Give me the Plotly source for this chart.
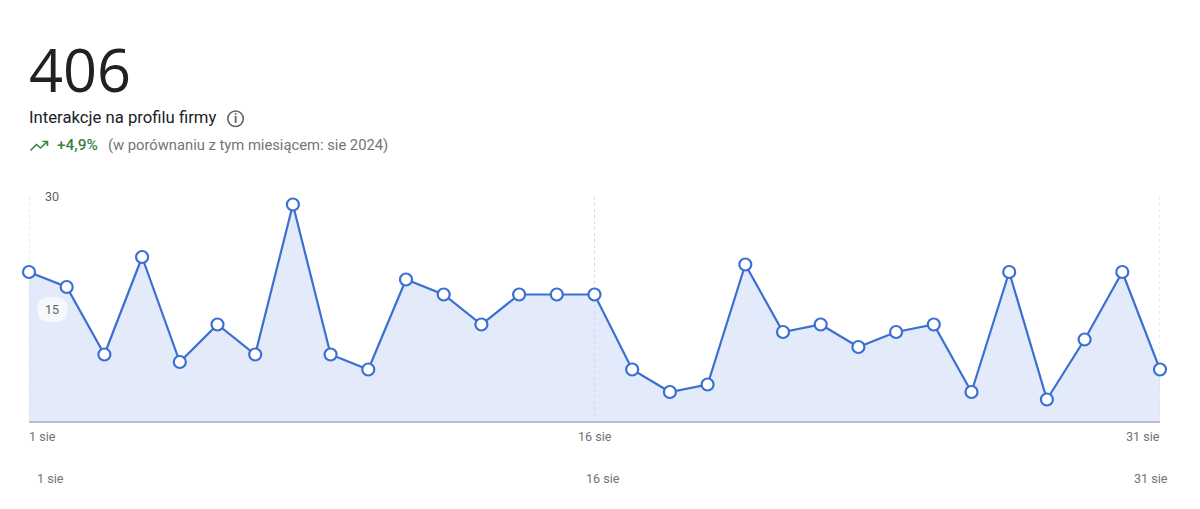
import plotly.graph_objects as go

W, H = 1200, 509
LEFT, RIGHT, TOP, BOTTOM = 28.5, 1160.5, 197, 422

# interakcje dziennie, sierpien
dni = list(range(1, 32))
wartosci = [20, 18, 9, 22, 8, 13, 9, 29, 9, 7, 19, 17, 13, 17, 17, 17,
            7, 4, 5, 21, 12, 13, 10, 12, 13, 4, 20, 3, 11, 20, 7]
tick_dni = [1, 16, 31]
tick_etykiety = ["1 sie", "16 sie", "31 sie"]
tick_kotwice = ["left", "center", "right"]
y_ticki = [30, 15]

NIEBIESKI = "#3b6fd2"
WYPELNIENIE = "#e3eafa"
SZARY = "#5f6368"
SZARY_OS = "#70757a"
ZIELONY = "#3c8043"
FONT = "Roboto"


def paper_x(x):
    return (x - LEFT) / (RIGHT - LEFT)


def paper_y(y):
    return (BOTTOM - y) / (BOTTOM - TOP)


def sciezka_px(punkty):
    return "M " + " L ".join(f"{paper_x(a)},{paper_y(b)}" for a, b in punkty)


def pigulka(x0, x1, y0, y1):
    # prostokat z zaokraglonymi rogami
    r = (y1 - y0) / 2
    return (f"M {paper_x(x0 + r)},{paper_y(y0)} L {paper_x(x1 - r)},{paper_y(y0)} "
            f"Q {paper_x(x1)},{paper_y(y0)} {paper_x(x1)},{paper_y(y0 + r)} "
            f"Q {paper_x(x1)},{paper_y(y1)} {paper_x(x1 - r)},{paper_y(y1)} "
            f"L {paper_x(x0 + r)},{paper_y(y1)} "
            f"Q {paper_x(x0)},{paper_y(y1)} {paper_x(x0)},{paper_y(y0 + r)} "
            f"Q {paper_x(x0)},{paper_y(y0)} {paper_x(x0 + r)},{paper_y(y0)} Z")


fig = go.Figure()
# najpierw wypelnienie, potem przerywane linie, na koncu linia z punktami
fig.add_trace(go.Scatter(
    x=dni, y=wartosci, mode="none", fill="tozeroy", fillcolor=WYPELNIENIE,
    hoverinfo="skip",
))
for d in tick_dni:
    fig.add_trace(go.Scatter(
        x=[d, d], y=[0, y_ticki[0]], mode="lines",
        line=dict(color="#d5d8de", width=1, dash="3px,3px"),
        hoverinfo="skip", cliponaxis=False,
    ))
fig.add_trace(go.Scatter(
    x=dni, y=wartosci, mode="lines+markers",
    line=dict(color=NIEBIESKI, width=2.2),
    marker=dict(size=12, color="white", line=dict(color=NIEBIESKI, width=2.2)),
    cliponaxis=False, hoverinfo="x+y",
))

shapes = []
# os x
shapes.append(dict(type="line", xref="x", yref="paper", x0=1, x1=31, y0=0, y1=0,
                   line=dict(color="#bcbfc9", width=2), layer="above"))
# tlo pod "15"
shapes.append(dict(type="path", xref="paper", yref="paper", path=pigulka(37, 67, 297, 322),
                   line=dict(width=0), fillcolor="#f7f8fc", layer="above"))
# ikona info
shapes.append(dict(type="circle", xref="paper", yref="paper",
                   x0=paper_x(227.5), x1=paper_x(243), y0=paper_y(126.5), y1=paper_y(111),
                   line=dict(color=SZARY, width=1.6)))
# strzalka trendu
sciezka = sciezka_px([(30, 150.5), (36, 144.5), (40, 148), (47, 141.5)])
sciezka += " " + sciezka_px([(42, 141.5), (47, 141.5), (47, 146)])
shapes.append(dict(type="path", xref="paper", yref="paper", path=sciezka,
                   line=dict(color=ZIELONY, width=1.6)))

annotations = []


def tekst(t, x, y, size, color, anchor="left", weight=None, family=FONT):
    annotations.append(dict(text=t, xref="paper", yref="paper", x=paper_x(x), y=paper_y(y),
                            xanchor=anchor, yanchor="middle", showarrow=False,
                            borderpad=0, borderwidth=0,
                            font=dict(family=family, size=size, color=color, weight=weight)))


tekst("406", 28, 69, 59.5, "#202124", family="Open Sans")
tekst("Interakcje na profilu firmy", 29, 118, 16.7, "#202124")
tekst("i", 235.3, 118.5, 12, SZARY, "center", 700)
tekst("+4,9%", 57, 145, 15.4, ZIELONY, weight=500)
tekst("(w porównaniu z tym miesiącem: sie 2024)", 108, 145, 14.75, SZARY_OS)
tekst(str(y_ticki[0]), 45, 196.5, 12.5, SZARY)
tekst(str(y_ticki[1]), 45, 309.5, 12.5, SZARY)

# dwa rzedy etykiet osi x
for d, t, k in zip(tick_dni, tick_etykiety, tick_kotwice):
    annotations.append(dict(text=t, xref="x", yref="paper", x=d, y=paper_y(436.5), xanchor=k,
                            yanchor="middle", showarrow=False, borderpad=0, borderwidth=0,
                            font=dict(family=FONT, size=12.6, color=SZARY_OS)))
    annotations.append(dict(text=t, xref="x", yref="paper", x=d, y=paper_y(478.5), xanchor=k,
                            xshift=8, yanchor="middle", showarrow=False, borderpad=0, borderwidth=0,
                            font=dict(family=FONT, size=12.6, color=SZARY_OS)))

fig.update_layout(
    width=W, height=H, autosize=False,
    margin=dict(l=LEFT, r=W - RIGHT, t=TOP, b=H - BOTTOM, pad=0, autoexpand=False),
    paper_bgcolor="white", plot_bgcolor="white", showlegend=False,
    xaxis=dict(range=[1, 31], visible=False, fixedrange=True),
    yaxis=dict(range=[0, 30], visible=False, fixedrange=True),
    shapes=shapes, annotations=annotations,
    font=dict(family=FONT),
)

fig.write_html("out.html", config={"displayModeBar": False},
               post_script="document.body.style.margin='0';")
